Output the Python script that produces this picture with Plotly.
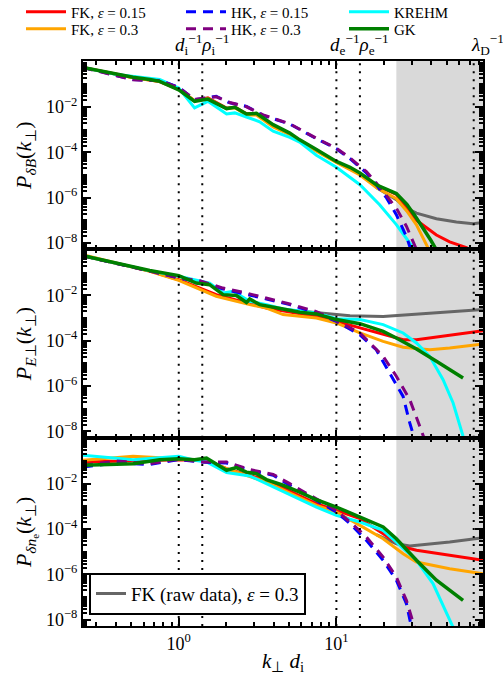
import numpy as np
import plotly.graph_objects as go
from plotly.subplots import make_subplots

# ---------------- data (P stored as log10 values) ----------------
# Panel 1: P_dB
dB_gk_k = [0.247, 0.403, 0.513, 0.655, 0.757, 1.0, 1.26, 1.53, 2.01, 2.27, 2.69, 3.11, 3.97, 5.06, 5.85, 7.47, 10.0, 12.2, 14.1, 17.9, 24.0, 28.0, 32.2, 39.7, 43.1]
dB_gk_lp = [-0.25, -0.57, -0.69, -0.79, -0.87, -1.24, -1.75, -1.65, -2.07, -2.01, -2.31, -2.28, -2.78, -3.15, -3.45, -3.88, -4.40, -4.66, -4.91, -5.43, -5.82, -6.30, -6.90, -7.88, -8.30]
dB_fk15_k = [0.247, 0.403, 0.513, 0.757, 1.0, 1.26, 1.53, 2.01, 2.27, 2.69, 3.11, 3.97, 5.06, 7.47, 10.0, 14.1, 17.9, 24.0, 28.0, 32.2, 43.1, 52.3, 66.8, 73.6]
dB_fk15_lp = [-0.25, -0.57, -0.70, -0.88, -1.22, -1.72, -1.60, -2.05, -2.00, -2.30, -2.30, -2.82, -3.18, -3.92, -4.42, -4.95, -5.45, -5.85, -6.45, -7.00, -7.65, -7.95, -8.20, -8.37]
dB_fk3_k = [0.247, 0.403, 0.513, 0.757, 1.0, 1.26, 1.53, 2.01, 2.27, 2.69, 3.11, 3.97, 5.06, 7.47, 10.0, 14.1, 17.9, 24.0, 28.0, 32.2, 39.1]
dB_fk3_lp = [-0.26, -0.58, -0.71, -0.88, -1.22, -1.72, -1.63, -2.08, -2.03, -2.35, -2.35, -2.88, -3.22, -3.95, -4.45, -5.00, -5.55, -6.05, -6.60, -7.20, -8.37]
dB_raw_k = [17.9, 24.0, 27.8, 32.2, 43.1, 57.7, 73.6, 85.1]
dB_raw_lp = [-5.55, -6.09, -6.46, -6.68, -6.93, -7.07, -7.15, -7.10]
dB_kr_k = [0.247, 0.403, 0.757, 1.0, 1.26, 1.53, 2.01, 2.27, 2.69, 3.26, 3.97, 5.06, 5.85, 7.47, 10.0, 14.1, 18.8, 24.0, 29.2, 32.2]
dB_kr_lp = [-0.25, -0.57, -0.79, -1.16, -2.04, -1.75, -2.31, -2.26, -2.44, -2.65, -3.07, -3.34, -3.55, -4.13, -4.66, -5.43, -6.31, -7.19, -8.00, -8.37]
dB_hk15_k = [0.247, 0.403, 0.513, 0.757, 1.0, 1.26, 1.73, 2.11, 2.69, 3.43, 5.06, 7.47, 10.0, 12.2, 15.5, 17.9, 20.8, 24.0, 27.8, 29.9]
dB_hk15_lp = [-0.25, -0.60, -0.79, -0.83, -1.13, -1.68, -1.53, -1.82, -1.97, -2.37, -2.75, -3.40, -3.84, -4.28, -4.91, -5.43, -6.01, -6.75, -7.71, -8.37]
dB_hk3_k = [0.247, 0.403, 0.513, 0.757, 1.0, 1.26, 1.73, 2.11, 2.69, 3.43, 5.06, 7.47, 10.0, 12.2, 15.5, 17.9, 20.8, 24.0, 27.8, 32.2]
dB_hk3_lp = [-0.26, -0.63, -0.80, -0.84, -1.14, -1.66, -1.55, -1.80, -1.99, -2.35, -2.74, -3.38, -3.82, -4.25, -4.85, -5.35, -5.90, -6.46, -7.26, -8.29]

# Panel 2: P_E
E_gk_k = [0.247, 0.403, 0.655, 1.0, 1.29, 1.57, 1.91, 2.32, 2.69, 2.82, 3.26, 4.59, 5.85, 7.47, 10.0, 14.1, 19.8, 24.0, 32.2, 43.1, 52.3, 63.6]
E_gk_lp = [-0.25, -0.57, -0.90, -1.13, -1.46, -1.53, -1.97, -2.01, -2.31, -2.16, -2.41, -2.60, -2.75, -2.82, -3.07, -3.25, -3.59, -3.88, -4.37, -4.91, -5.28, -5.65]
E_kr_k = [0.247, 0.403, 0.655, 1.0, 1.36, 1.57, 1.91, 2.21, 2.82, 3.60, 4.59, 7.47, 10.0, 14.1, 19.8, 26.5, 32.2, 39.1, 47.5, 55.0, 63.6, 65.2]
E_kr_lp = [-0.25, -0.58, -0.92, -1.16, -1.38, -1.46, -1.90, -1.82, -2.26, -2.41, -2.60, -2.78, -3.03, -3.07, -3.29, -3.66, -4.10, -4.69, -5.72, -6.75, -8.22, -8.40]
E_fk15_k = [0.247, 0.403, 0.655, 1.0, 1.73, 3.60, 7.47, 10.0, 14.1, 19.8, 26.5, 32.2, 43.1, 60.6, 85.1]
E_fk15_lp = [-0.25, -0.58, -0.93, -1.31, -1.97, -2.56, -2.93, -3.15, -3.44, -3.74, -3.96, -3.96, -3.84, -3.69, -3.56]
E_fk3_k = [0.247, 0.403, 0.655, 1.0, 1.73, 2.82, 3.60, 4.59, 5.85, 7.47, 10.0, 14.1, 19.8, 26.5, 39.1, 52.3, 85.1]
E_fk3_lp = [-0.21, -0.57, -0.94, -1.34, -2.04, -2.41, -2.56, -2.85, -2.93, -3.00, -3.22, -3.66, -4.03, -4.29, -4.40, -4.32, -4.15]
E_raw_k = [4.59, 7.47, 12.2, 19.8, 32.2, 52.3, 85.1]
E_raw_lp = [-2.63, -2.78, -2.90, -2.93, -2.84, -2.72, -2.63]
E_hk15_k = [0.247, 0.403, 0.655, 1.0, 1.36, 1.91, 2.69, 3.60, 5.06, 7.47, 10.0, 14.1, 17.9, 21.8, 26.5, 29.2, 31.4]
E_hk15_lp = [-0.25, -0.58, -0.92, -1.24, -1.38, -1.72, -1.94, -2.16, -2.41, -2.78, -3.15, -3.74, -4.40, -5.43, -6.46, -7.63, -8.37]
E_hk3_k = [0.247, 0.403, 0.655, 1.0, 1.36, 1.91, 2.69, 3.60, 5.06, 7.47, 10.0, 14.1, 19.8, 24.0, 29.2, 33.8, 36.3]
E_hk3_lp = [-0.26, -0.59, -0.93, -1.22, -1.36, -1.68, -1.90, -2.12, -2.38, -2.72, -3.12, -3.66, -4.69, -5.57, -6.60, -7.78, -8.37]

# Panel 3: P_dn
n_gk_k = [0.247, 0.513, 0.757, 1.0, 1.26, 1.50, 2.01, 2.32, 2.69, 3.11, 3.60, 4.59, 5.85, 7.47, 10.0, 14.1, 19.8, 24.0, 32.2, 43.1, 63.6]
n_gk_lp = [-1.19, -1.12, -0.94, -0.90, -0.94, -0.87, -1.41, -1.29, -1.49, -1.56, -1.82, -2.07, -2.37, -2.71, -3.03, -3.47, -3.91, -4.43, -5.38, -6.26, -7.15]
n_kr_k = [0.247, 0.513, 1.0, 1.26, 1.50, 2.01, 2.82, 3.60, 5.06, 7.47, 10.0, 14.1, 19.8, 24.0, 32.2, 41.0, 52.3, 55.5]
n_kr_lp = [-0.75, -0.94, -0.79, -0.97, -1.04, -1.51, -1.66, -2.00, -2.51, -3.03, -3.40, -3.69, -4.06, -4.57, -5.38, -6.41, -8.03, -8.40]
n_fk3_k = [0.247, 0.513, 1.0, 1.50, 2.01, 3.60, 7.47, 10.0, 14.1, 19.8, 26.5, 32.2, 52.3, 85.1]
n_fk3_lp = [-0.97, -0.79, -0.90, -0.97, -1.34, -1.93, -2.96, -3.25, -3.84, -4.43, -5.09, -5.46, -5.75, -5.97]
n_fk15_k = [0.247, 0.513, 1.0, 1.50, 2.01, 3.60, 7.47, 10.0, 14.1, 19.8, 26.5, 32.2, 52.3, 85.1]
n_fk15_lp = [-1.04, -1.00, -0.94, -0.97, -1.34, -1.85, -2.88, -3.18, -3.54, -4.21, -4.79, -4.94, -5.16, -5.38]
n_raw_k = [17.9, 24.0, 29.2, 32.2, 52.3, 85.1]
n_raw_lp = [-4.25, -4.65, -4.75, -4.72, -4.57, -4.38]
n_hk15_k = [0.247, 0.403, 0.655, 1.0, 1.36, 2.01, 2.82, 3.97, 5.06, 7.47, 10.0, 12.2, 15.5, 19.8, 24.0, 27.8, 29.9]
n_hk15_lp = [-1.26, -1.09, -1.15, -0.94, -1.04, -1.09, -1.41, -1.63, -2.07, -2.74, -3.25, -3.76, -4.50, -5.38, -6.26, -7.29, -8.32]
n_hk3_k = [0.247, 0.403, 0.655, 1.0, 1.36, 2.01, 2.82, 3.97, 5.06, 7.47, 10.0, 12.2, 15.5, 19.8, 24.0, 27.8, 31.4]
n_hk3_lp = [-1.19, -1.00, -1.12, -0.91, -1.04, -1.04, -1.38, -1.59, -2.00, -2.66, -3.18, -3.69, -4.35, -5.24, -6.12, -7.15, -8.37]

# characteristic scales
scale_k = [1.0, 1.41, 10.0, 14.1, 74.3]
shade_k = [24.0, 90.0]
k_range = [0.247, 85.1]
p_range = [10 ** -8.28, 10 ** 0.03]

FONT = "Liberation Serif"
C = dict(fk15="#ff0000", fk3="#ffa500", hk15="#0000ff", hk3="#800080", kr="#00ffff", gk="#008000", raw="#666666")

fig = make_subplots(rows=3, cols=1, shared_xaxes=True, vertical_spacing=0)

panels = [
    dict(raw=(dB_raw_k, dB_raw_lp), fk15=(dB_fk15_k, dB_fk15_lp), fk3=(dB_fk3_k, dB_fk3_lp),
         kr=(dB_kr_k, dB_kr_lp), hk15=(dB_hk15_k, dB_hk15_lp), hk3=(dB_hk3_k, dB_hk3_lp), gk=(dB_gk_k, dB_gk_lp)),
    dict(raw=(E_raw_k, E_raw_lp), fk15=(E_fk15_k, E_fk15_lp), fk3=(E_fk3_k, E_fk3_lp),
         kr=(E_kr_k, E_kr_lp), hk15=(E_hk15_k, E_hk15_lp), hk3=(E_hk3_k, E_hk3_lp), gk=(E_gk_k, E_gk_lp)),
    dict(raw=(n_raw_k, n_raw_lp), fk15=(n_fk15_k, n_fk15_lp), fk3=(n_fk3_k, n_fk3_lp),
         kr=(n_kr_k, n_kr_lp), hk15=(n_hk15_k, n_hk15_lp), hk3=(n_hk3_k, n_hk3_lp), gk=(n_gk_k, n_gk_lp)),
]
names = dict(fk15="FK, <i>ε</i> = 0.15", fk3="FK, <i>ε</i> = 0.3", hk15="HK, <i>ε</i> = 0.15",
             hk3="HK, <i>ε</i> = 0.3", kr="KREHM", gk="GK", raw="FK (raw data), <i>ε</i> = 0.3")
# one legend box per entry so the 3x2 grid spacing can match the reference
legend_of = dict(fk15="legend", hk15="legend3", kr="legend4", fk3="legend5", hk3="legend6", gk="legend7", raw="legend2")
dashes = dict(hk15="10px,7px", hk3="10px,7px")
widths = dict(gk=3.5)

for r, pdata in enumerate(panels, start=1):
    for key in ["raw", "fk15", "fk3", "kr", "hk15", "hk3", "gk"]:
        kk, lp = pdata[key]
        show = (r == 1 and key != "raw") or (r == 3 and key == "raw")
        fig.add_trace(go.Scatter(
            x=kk, y=np.power(10.0, lp), mode="lines", name=names[key],
            line=dict(color=C[key], width=widths.get(key, 3), dash=dashes.get(key, "solid")),
            showlegend=show, legend=legend_of[key],
        ), row=r, col=1)

# shaded region and dotted lines
for r in (1, 2, 3):
    fig.add_vrect(x0=shade_k[0], x1=shade_k[1], fillcolor="#d9d9d9", line_width=0, layer="below", row=r, col=1)
    for kv in scale_k:
        fig.add_vline(x=kv, line=dict(color="black", width=2, dash="2px,6px"), row=r, col=1)

xminor = [v * 10 ** m for m in (-1, 0, 1) for v in range(2, 10)]
yminor = [v * 10.0 ** m for m in range(-9, 1) for v in range(1, 10) if not (v == 1 and m in (-8, -6, -4, -2))]
axis_common = dict(showline=True, linecolor="black", linewidth=2, mirror="allticks", ticks="inside",
                   tickcolor="black", tickwidth=1.5, showgrid=False, zeroline=False,
                   tickfont=dict(family=FONT, size=18, color="black"))
for r in (1, 2, 3):
    fig.update_xaxes(type="log", range=[np.log10(k_range[0]), np.log10(k_range[1])], ticklen=8,
                     tickvals=[1, 10], ticktext=["10<sup>0</sup>", "10<sup>1</sup>"],
                     minor=dict(ticks="inside", ticklen=4, tickcolor="black", tickvals=xminor, showgrid=False),
                     row=r, col=1, **axis_common)
    fig.update_yaxes(type="log", range=[np.log10(p_range[0]), np.log10(p_range[1])], ticklen=8,
                     tickvals=[1e-8, 1e-6, 1e-4, 1e-2],
                     ticktext=["10<sup>−8</sup>", "10<sup>−6</sup>", "10<sup>−4</sup>", "10<sup>−2</sup>"],
                     minor=dict(ticks="inside", ticklen=4, tickcolor="black", tickvals=yminor, showgrid=False),
                     title_standoff=8, row=r, col=1, **axis_common)

tfont = dict(family=FONT, size=22, color="black")
fig.update_yaxes(title=dict(text="<i>P</i><sub><i>δB</i></sub>(<i>k</i><sub>⊥</sub>)", font=tfont), row=1, col=1)
fig.update_yaxes(title=dict(text="<i>P</i><sub><i>E</i>⊥</sub>(<i>k</i><sub>⊥</sub>)", font=tfont), row=2, col=1)
fig.update_yaxes(title=dict(text="<i>P</i><sub><i>δn</i><sub>e</sub></sub>(<i>k</i><sub>⊥</sub>)", font=tfont), row=3, col=1)
fig.update_xaxes(title=dict(text="<i>k</i><sub>⊥</sub> <i>d</i><sub>i</sub>", font=dict(family=FONT, size=21, color="black"), standoff=4), row=3, col=1)

# top labels for characteristic scales
lab_font = dict(family=FONT, size=19, color="black")
fig.add_annotation(x=np.log10(scale_k[1]), y=1.0, xref="x", yref="paper", yanchor="bottom", xanchor="center",
                   text="<i>d</i><sub>i</sub><sup>−1</sup><i>ρ</i><sub>i</sub><sup>−1</sup>", showarrow=False, font=lab_font, yshift=1)
fig.add_annotation(x=np.log10(scale_k[3]), y=1.0, xref="x", yref="paper", yanchor="bottom", xanchor="center",
                   text="<i>d</i><sub>e</sub><sup>−1</sup><i>ρ</i><sub>e</sub><sup>−1</sup>", showarrow=False, font=lab_font, yshift=1)
fig.add_annotation(x=np.log10(scale_k[4]), y=1.0, xref="x", yref="paper", yanchor="bottom", xanchor="left",
                   text="<i>λ</i><sub>D</sub><sup>−1</sup>", showarrow=False, font=lab_font, yshift=1, xshift=-5)

def leg(x, y):
    return dict(orientation="v", x=x, y=y, xanchor="left", yanchor="top",
                bgcolor="rgba(0,0,0,0)", font=dict(family=FONT, size=15), itemwidth=40, tracegroupgap=0)

row_y = [1.116, 1.086]
col_x = [-0.155, 0.245, 0.6525]
fig.update_layout(
    width=503, height=675, margin=dict(l=83, r=20, t=61, b=49, autoexpand=False),
    paper_bgcolor="white", plot_bgcolor="white",
    font=dict(family=FONT, color="black"),
    legend=leg(col_x[0], row_y[0]), legend3=leg(col_x[1], row_y[0]), legend4=leg(col_x[2], row_y[0]),
    legend5=leg(col_x[0], row_y[1]), legend6=leg(col_x[1], row_y[1]), legend7=leg(col_x[2], row_y[1]),
    legend2=dict(x=0.015, y=0.02, xanchor="left", yanchor="bottom", bgcolor="white",
                 bordercolor="black", borderwidth=2, font=dict(family=FONT, size=19)),
)

fig.write_html("out.html")
